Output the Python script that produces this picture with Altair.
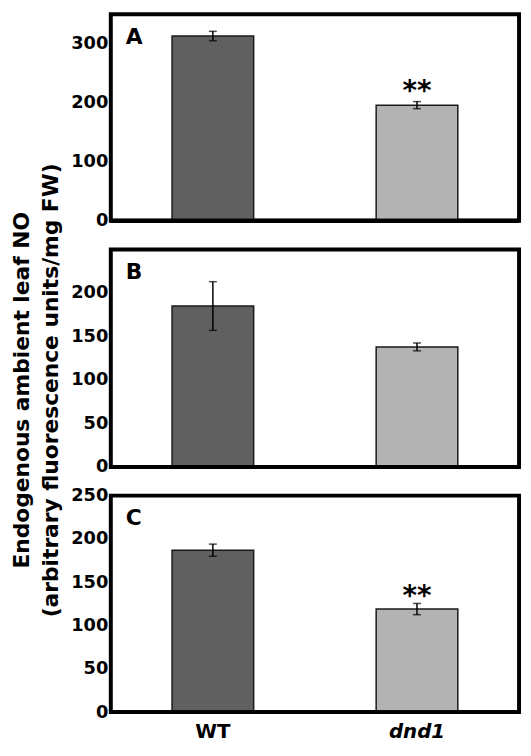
import altair as alt
import pandas as pd

# ---- data ----
genotypes = ["WT", "dnd1"]
bar_colors = ["#606060", "#b3b3b3"]

means_A = [313, 196]
errs_A = [8, 6]
sig_A = ["", "**"]

means_B = [185, 138]
errs_B = [28, 4.5]
sig_B = ["", ""]

means_C = [187, 119]
errs_C = [7, 6.5]
sig_C = ["", "**"]

ticks_A = [0, 100, 200, 300]
ticks_B = [0, 50, 100, 150, 200]
ticks_C = [0, 50, 100, 150, 200, 250]

y_title = ["Endogenous ambient leaf NO", "(arbitrary fluorescence units/mg FW)"]

FONT = "DejaVu Sans"
W = 413


def panel(letter, means, errs, sig, domain, ticks, height, show_x, title, star_dy):
    df = pd.DataFrame({
        "genotype": genotypes,
        "mean": means,
        "lower": [m - e for m, e in zip(means, errs)],
        "upper": [m + e for m, e in zip(means, errs)],
        "sig": sig,
    })
    if show_x:
        x_axis = alt.Axis(
            title=None, labelAngle=0, labelFontSize=20, labelFontWeight="bold",
            labelPadding=10, labelColor="black", labelFont=FONT,
            labelFontStyle={"condition": {"test": "datum.value === 'dnd1'", "value": "italic"},
                            "value": "normal"},
        )
    else:
        x_axis = None

    def xe():
        return alt.X("genotype:N", sort=genotypes,
                     scale=alt.Scale(paddingInner=0.6, paddingOuter=0.3),
                     axis=x_axis)

    if title is not None:
        y_axis = alt.Axis(values=ticks, title=title, titleFontSize=22, titleFont=FONT,
                          titleFontWeight="bold", titleColor="black", titleX=-100, titleY=142,
                          titleBaseline="top", titleLineHeight=29, titleAngle=-90,
                          labelFlush=False, labelOverlap=False)
    else:
        y_axis = alt.Axis(values=ticks, title=None, labelFlush=False, labelOverlap=False)

    def ye(field):
        return alt.Y(field, type="quantitative",
                     scale=alt.Scale(domain=domain, nice=False, zero=True),
                     axis=y_axis)

    base = alt.Chart(df)
    bars = base.mark_bar(stroke="#1a1a1a", strokeWidth=1.5).encode(
        x=xe(), y=ye("mean"),
        color=alt.Color("genotype:N", scale=alt.Scale(domain=genotypes, range=bar_colors),
                        legend=None),
    )
    rule = base.mark_rule(color="black", strokeWidth=1.5).encode(
        x=xe(), y=ye("lower"), y2="upper:Q")
    tick_hi = base.mark_tick(color="black", size=8, thickness=1.5).encode(x=xe(), y=ye("upper"))
    tick_lo = base.mark_tick(color="black", size=8, thickness=1.5).encode(x=xe(), y=ye("lower"))
    stars = base.transform_filter("datum.sig != ''").mark_text(
        font=FONT, fontSize=28, fontWeight="bold", color="black",
        baseline="alphabetic", dy=star_dy).encode(
        x=xe(), y=ye("upper"), text="sig:N")
    baseline = base.mark_rule(color="black", strokeWidth=4).encode(
        y=alt.datum(0), x=alt.value(0), x2=alt.value(W))
    lab = alt.Chart(pd.DataFrame({"label": [letter]})).mark_text(
        font=FONT, fontSize=22, fontWeight="bold", color="black",
        align="left", baseline="middle").encode(
        x=alt.value(15), y=alt.value(23), text="label:N")
    return alt.layer(bars, rule, tick_hi, tick_lo, stars, baseline, lab).properties(
        width=W, height=height)


pA = panel("A", means_A, errs_A, sig_A, [0, 350], ticks_A, 209, False, None, -2)
pB = panel("B", means_B, errs_B, sig_B, [0, 250], ticks_B, 220, False, y_title, 0)
pC = panel("C", means_C, errs_C, sig_C, [0, 250], ticks_C, 219, True, None, 2)

chart = alt.vconcat(pA, pB, pC, spacing=29, bounds="flush").properties(
    padding=0
).configure(font=FONT).configure_view(
    stroke="black", strokeWidth=4
).configure_axis(
    domain=False, ticks=False, grid=False,
    labelFont=FONT, labelFontWeight="bold", labelFontSize=18, labelColor="black",
    labelPadding=3,
)

chart.save("out.html", embed_options={"renderer": "svg", "actions": False})
